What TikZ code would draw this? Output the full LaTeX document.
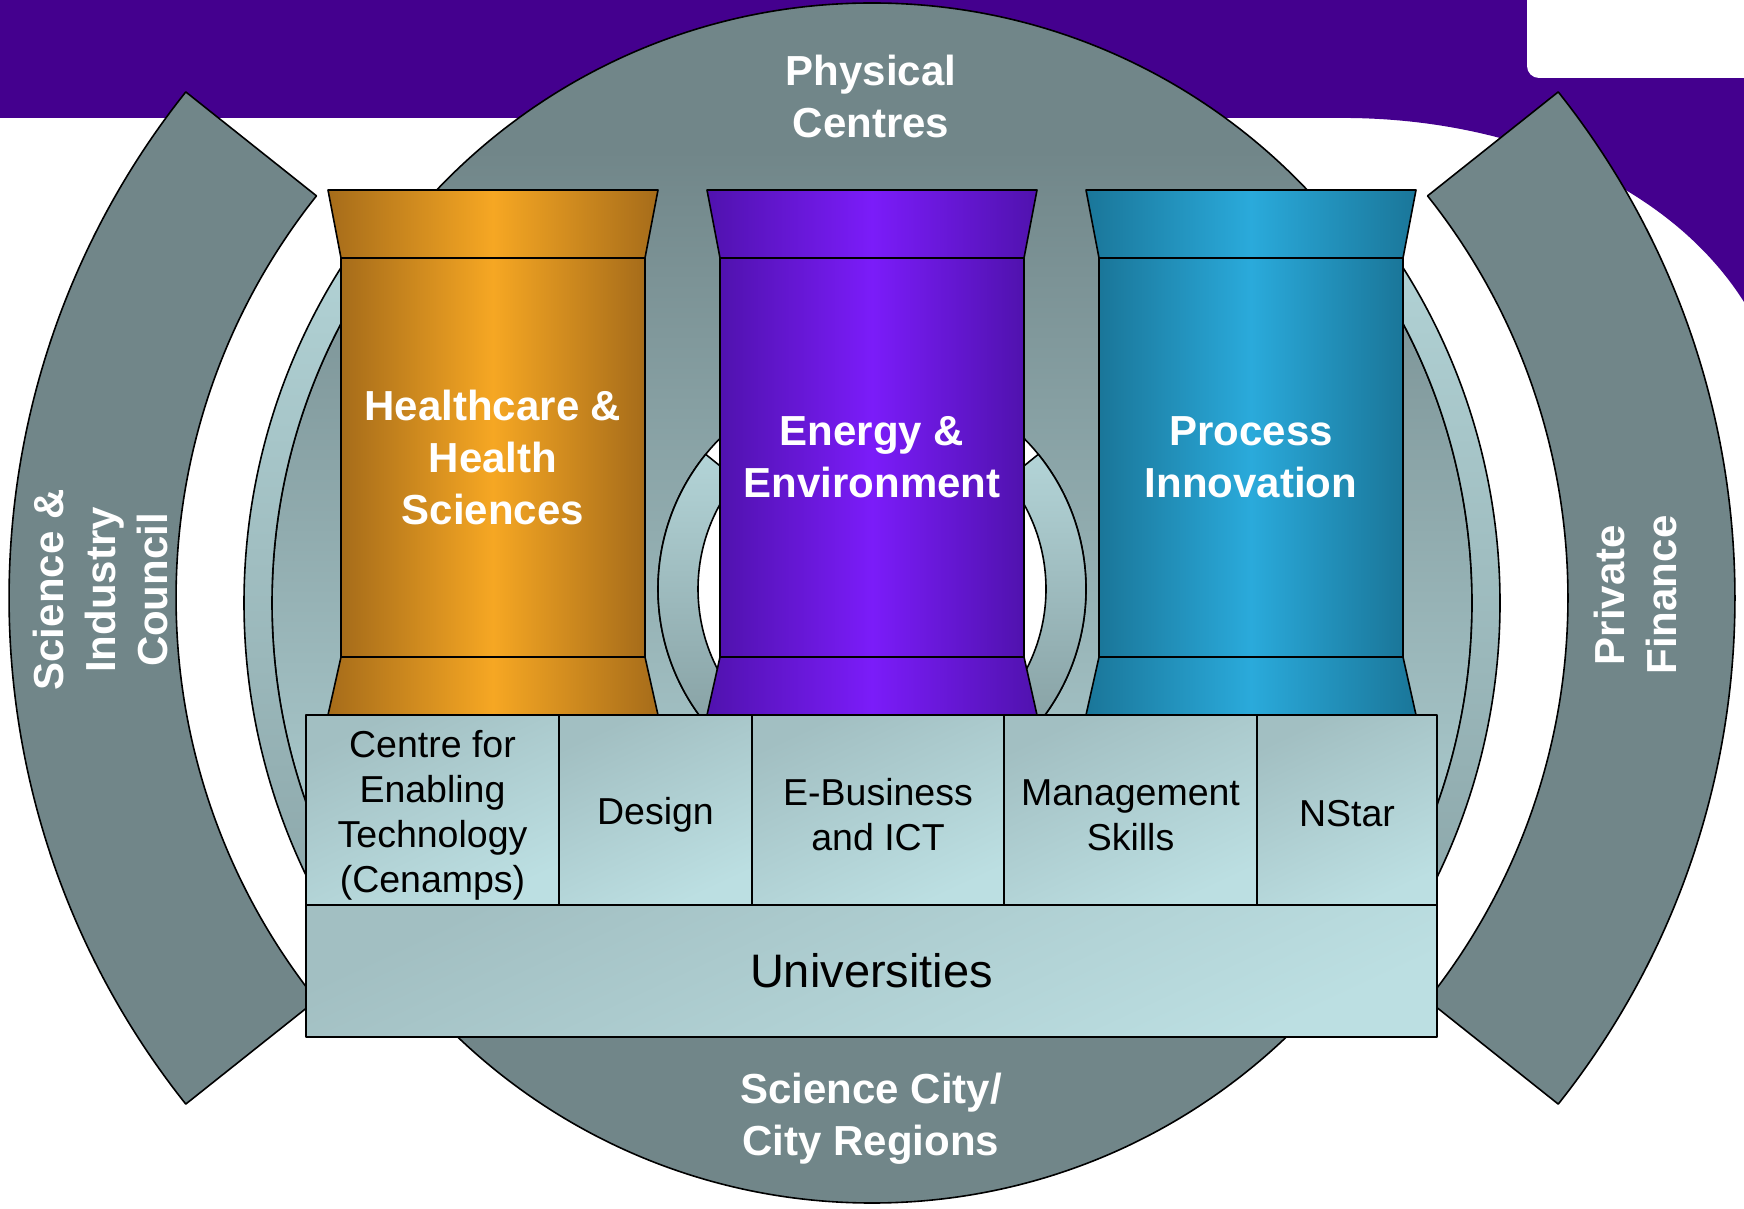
\documentclass[tikz,border=0pt]{standalone}
\usepackage{fontspec}
\setmainfont{Liberation Sans}
\definecolor{bgpurple}{HTML}{44008E}
\definecolor{greyD}{HTML}{718689}
\definecolor{greyL}{HTML}{ABCBCE}
\definecolor{ringT}{HTML}{B3D4D7}
\definecolor{ringB}{HTML}{88A2A5}
\definecolor{boxA}{HTML}{A2BFC2}
\definecolor{boxB}{HTML}{BCDFE2}
\definecolor{orD}{HTML}{A66C1A}
\definecolor{orB}{HTML}{F6A723}
\definecolor{puD}{HTML}{5012AE}
\definecolor{puB}{HTML}{7B1CF9}
\definecolor{blD}{HTML}{1A7699}
\definecolor{blB}{HTML}{2AAADB}
\newcommand\pillar[5]{%
  \shadedraw[outl, left color=#3, right color=#3, middle color=#4]
    (#2-165,1018) -- (#2+165,1018) -- (#2+152,950) -- (#2-152,950) -- cycle;
  \shadedraw[outl, left color=#3, right color=#3, middle color=#4]
    (#2-152,551) -- (#2+152,551) -- (#2+165,493) -- (#2-165,493) -- cycle;
  \node[pillarbody, left color=#3, right color=#3, middle color=#4] (#1) at (#2,750.5) {#5};
}
\begin{document}
\begin{tikzpicture}[x=1pt,y=1pt, line join=round,
  outl/.style={draw=black, line width=1.6pt},
  wlabel/.style={text=white, font=\fontsize{42}{52}\selectfont\bfseries, align=center, inner sep=0pt},
  boxtext/.style={text=black, align=center, inner sep=0pt, font=\fontsize{37.5}{45}\selectfont},
  subbox/.style={outl, top color=boxA, bottom color=boxB, shading angle=25, minimum height=190pt,
    inner sep=0pt, outer sep=0pt},
  pillarbody/.style={outl, minimum width=304pt, minimum height=399pt, inner sep=0pt, outer sep=0pt,
    text=white, align=center, font=\fontsize{42}{52}\selectfont\bfseries}
]
\useasboundingbox (0,0) rectangle (1744,1208);
\clip (0,0) rectangle (1744,1208);
% background
\fill[bgpurple] (0,1208) -- (1744,1208) -- (1744,906) .. controls (1672,1020) and (1520,1088) .. (1350,1090) -- (0,1090) -- cycle;
\fill[white, rounded corners=12pt] (1527,1250) rectangle (1790,1130);
% side sectors
\coordinate (SL) at (822,610);
\coordinate (SR) at (922,610);
\filldraw[outl, fill=greyD] ([shift={(141.5:813pt)}]SL) arc[start angle=141.5, end angle=218.5, radius=813pt]
  -- ([shift={(218.5:646pt)}]SL) arc[start angle=218.5, end angle=141.5, radius=646pt] -- cycle;
\filldraw[outl, fill=greyD] ([shift={(-38.5:646pt)}]SR) arc[start angle=-38.5, end angle=38.5, radius=646pt]
  -- ([shift={(38.5:813pt)}]SR) arc[start angle=38.5, end angle=-38.5, radius=813pt] -- cycle;
\node[wlabel, rotate=90] (sic) at (100,618) {Science \&\\Industry\\Council};
\node[wlabel, rotate=90] (pf) at (1635,613) {Private\\Finance};
% big circle
\coordinate (C) at (872,605);
\fill[greyD] (C) circle[radius=600pt];
\begin{scope}
  \clip (C) circle[radius=600pt];
  \shade[top color=greyD, bottom color=greyL] (200,1058) rectangle (1544,358);
\end{scope}
\draw[outl] (C) circle[radius=600pt];
% light ring
\shadedraw[outl, top color=ringT, bottom color=ringB] ([shift={(142:628pt)}]C) arc[start angle=142, end angle=218, radius=628pt]
  -- ([shift={(218:600pt)}]C) arc[start angle=218, end angle=142, radius=600pt] -- cycle;
\shadedraw[outl, top color=ringT, bottom color=ringB] ([shift={(-38:600pt)}]C) arc[start angle=-38, end angle=38, radius=600pt]
  -- ([shift={(38:628pt)}]C) arc[start angle=38, end angle=-38, radius=628pt] -- cycle;
% small donut
\coordinate (D) at (872,619);
\filldraw[outl, fill=white] (D) circle[radius=214pt];
\shadedraw[outl, top color=ringT, bottom color=ringB] ([shift={(141:214pt)}]D) arc[start angle=141, end angle=219, radius=214pt]
  -- ([shift={(219:174pt)}]D) arc[start angle=219, end angle=141, radius=174pt] -- cycle;
\shadedraw[outl, top color=ringT, bottom color=ringB] ([shift={(-39:174pt)}]D) arc[start angle=-39, end angle=39, radius=174pt]
  -- ([shift={(39:214pt)}]D) arc[start angle=39, end angle=-39, radius=214pt] -- cycle;
% pillars
\pillar{health}{493}{orD}{orB}{Healthcare \&\\Health\\Sciences}
\pillar{energy}{872}{puD}{puB}{Energy \&\\Environment}
\pillar{process}{1251}{blD}{blB}{Process\\Innovation}
% boxes
\node[subbox, minimum width=253pt] (cenamps) at (432.5,398) {};
\node[subbox, minimum width=193pt] (design) at (655.5,398) {};
\node[subbox, minimum width=252pt] (ebiz) at (878,398) {};
\node[subbox, minimum width=253pt] (mgmt) at (1130.5,398) {};
\node[subbox, minimum width=180pt] (nstar) at (1347,398) {};
\node[subbox, minimum width=1131pt, minimum height=132pt] (univ) at (871.5,237) {};
\node[boxtext, yshift=-5pt] (tcenamps) at (cenamps.center) {Centre for\\Enabling\\Technology\\(Cenamps)};
\node[boxtext, yshift=-5pt] (tdesign) at (design.center) {Design};
\node[boxtext, yshift=-5pt] (tebiz) at (ebiz.center) {E-Business\\and ICT};
\node[boxtext, yshift=-5pt] (tmgmt) at (mgmt.center) {Management\\Skills};
\node[boxtext, yshift=-4pt] (tnstar) at (nstar.center) {NStar};
\node[boxtext, font=\fontsize{47}{56}\selectfont] (tuniv) at (univ.center) {Universities};
% circle labels
\node[wlabel] (phys) at (871,1112) {Physical\\Centres};
\node[wlabel] (scity) at (871,89) {Science City/\\City Regions};
\end{tikzpicture}
\end{document}
